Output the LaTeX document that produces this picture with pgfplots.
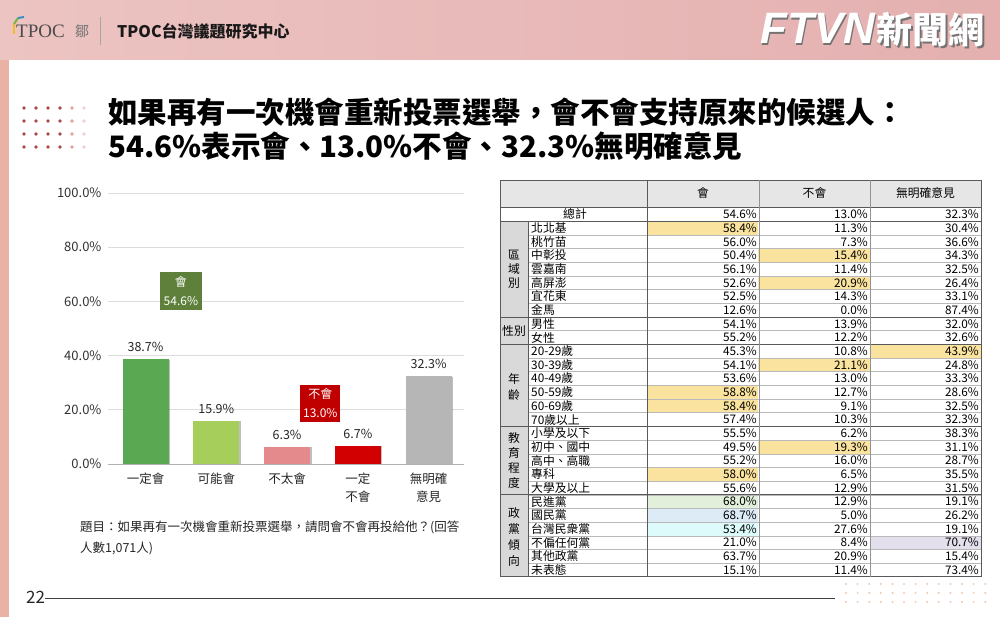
\documentclass[border=0pt]{standalone}
\usepackage{pgfplots}
\pgfplotsset{compat=1.18}
\usetikzlibrary{shadows}
\usepackage{fontspec}
\setmainfont{Noto Sans CJK TC}
\newfontfamily\lserif{Liberation Serif}
\newfontfamily\lsans{Liberation Sans}
\definecolor{hdrL}{RGB}{236,196,194}
\definecolor{hdrR}{RGB}{228,176,176}
\definecolor{stripe}{RGB}{233,178,165}
\definecolor{c1}{RGB}{91,168,82}
\definecolor{c2}{RGB}{166,206,90}
\definecolor{c3}{RGB}{229,138,140}
\definecolor{c4}{RGB}{210,0,0}
\definecolor{c5}{RGB}{182,182,182}
\definecolor{boxg}{RGB}{94,128,58}
\definecolor{boxr}{RGB}{192,0,0}
\definecolor{gridc}{RGB}{220,220,220}
\definecolor{axisgray}{RGB}{50,50,50}
\definecolor{hly}{RGB}{250,227,158}
\definecolor{hlg}{RGB}{226,239,218}
\definecolor{hlb}{RGB}{221,235,247}
\definecolor{hlc}{RGB}{221,251,251}
\definecolor{hlp}{RGB}{228,223,236}
\definecolor{thead}{RGB}{231,230,230}
\definecolor{tgrp}{RGB}{217,217,217}
\definecolor{tline}{RGB}{89,89,89}
\definecolor{dotA}{RGB}{170,72,72}
\definecolor{dotB}{RGB}{222,160,160}
\definecolor{dotC}{RGB}{240,208,208}
\definecolor{dotD}{RGB}{243,200,176}
\begin{document}
\begin{tikzpicture}[x=1pt,y=1pt]
\useasboundingbox (0,0) rectangle (1000,617);
\fill[white] (0,0) rectangle (1000,617);
\begin{scope}[yshift=617pt,yscale=-1]
% header
\shade[left color=hdrL,right color=hdrR] (0,0) rectangle (1000,60);
\fill[stripe] (0,60) rectangle (9,617);
% TPOC logo
\draw[line width=2pt,color={rgb,255:red,240;green,190;blue,40}] (14,34) -- (14,24);
\draw[line width=2pt,color={rgb,255:red,120;green,180;blue,60}] (14,24) -- (18,18);
\draw[line width=2pt,color={rgb,255:red,60;green,140;blue,200}] (18,18) -- (24,17);
\node[anchor=west,inner sep=0,text=black!70] at (16,31) {\lserif\fontsize{19}{20}\selectfont TPOC};
\node[anchor=west,inner sep=0,text=black!55] at (75,31) {\fontsize{14}{16}\selectfont 鄒};
\draw[gray!70,line width=0.8pt] (100,17) -- (100,45);
\node[anchor=west,inner sep=0,text=black!90] at (117,31) {\fontsize{16}{18}\selectfont\bfseries TPOC台灣議題研究中心};
% FTVN logo
\node[anchor=east,inner sep=0,text=black!55] at (986.5,31.5) {{\lsans\bfseries\itshape\fontsize{44}{46}\selectfont FTVN}\,{\bfseries\fontsize{36}{40}\selectfont 新聞網}};
\node[anchor=east,inner sep=0,text=white] at (985,30) {{\lsans\bfseries\itshape\fontsize{44}{46}\selectfont FTVN}\,{\bfseries\fontsize{36}{40}\selectfont 新聞網}};
% title dots
\foreach \yy in {108,121,134,147}{
  \foreach \xx/\cc in {24/dotA,36/dotA,48/dotA,60/dotA,72/dotB,84/dotC}{
    \fill[\cc] (\xx,\yy) circle (1.8);
  }
}
% title
\node[anchor=west,inner sep=0] at (108,112) {\fontsize{29.5}{34}\selectfont\bfseries 如果再有一次機會重新投票選舉，會不會支持原來的候選人：};
\node[anchor=west,inner sep=0] at (108,146) {\fontsize{29.5}{34}\selectfont\bfseries 54.6\%表示會、13.0\%不會、32.3\%無明確意見};
% footnote
\node[anchor=west,inner sep=0,text=black!85] at (80,527) {\fontsize{12.5}{14}\selectfont 題目：如果再有一次機會重新投票選舉，請問會不會再投給他？(回答};
\node[anchor=west,inner sep=0,text=black!85] at (80,548) {\fontsize{12.5}{14}\selectfont 人數1,071人)};
% page number and line
\node[anchor=west,inner sep=0,text=black!85] at (26,597) {\fontsize{17}{18}\selectfont 22};
\draw[black!75,line width=0.9pt] (45,598) -- (835,598);
\foreach \yy in {584,593,602}{
  \foreach \k in {0,...,12}{
    \fill[dotD] (846+11.6*\k,\yy) circle (1.1);
  }
}
% ---------- table ----------
\fill[thead] (500,180) rectangle (981,207.5);
\fill[tgrp] (500,221.18) rectangle (528,576.9);
\foreach \r/\c/\cc in {1/0/hly,3/1/hly,5/1/hly,10/2/hly,11/1/hly,13/0/hly,14/0/hly,17/1/hly,19/0/hly,21/0/hlg,22/0/hlb,23/0/hlc,24/2/hlp}{
  \pgfmathsetmacro\xa{647+111.33*\c}
  \pgfmathsetmacro\ya{207.5+13.68*\r}
  \fill[\cc] (\xa,\ya) rectangle ++(111.33,13.68);
}
\foreach \r in {2,...,26}{
  \pgfmathsetmacro\ya{207.5+13.68*\r}
  \draw[gray!55,line width=0.4pt] (528,\ya) -- (981,\ya);
}
\foreach \r in {0,1,8,10,16,21,27}{
  \pgfmathsetmacro\ya{207.5+13.68*\r}
  \draw[tline,line width=0.8pt] (500,\ya) -- (981,\ya);
}
\draw[tline,line width=0.8pt] (500,180) -- (981,180);
\draw[tline,line width=0.8pt] (500,180) -- (500,576.9);
\draw[tline,line width=0.8pt] (528,221.18) -- (528,576.9);
\draw[tline,line width=0.8pt] (647,180) -- (647,576.9);
\draw[gray!85,line width=0.5pt] (759,180) -- (759,576.9);
\draw[gray!85,line width=0.5pt] (870,180) -- (870,576.9);
\draw[tline,line width=0.8pt] (981,180) -- (981,576.9);
\begin{scope}[every node/.style={inner sep=0,font=\fontsize{11.8}{12}\selectfont}]
\node at (703,193) {會};
\node at (814.5,193) {不會};
\node at (925.5,193) {無明確意見};
\node at (575,214.34) {總計};
\foreach \i/\lab/\a/\b/\c in {
0//54.6/13.0/32.3,
1/北北基/58.4/11.3/30.4,
2/桃竹苗/56.0/7.3/36.6,
3/中彰投/50.4/15.4/34.3,
4/雲嘉南/56.1/11.4/32.5,
5/高屏澎/52.6/20.9/26.4,
6/宜花東/52.5/14.3/33.1,
7/金馬/12.6/0.0/87.4,
8/男性/54.1/13.9/32.0,
9/女性/55.2/12.2/32.6,
10/20-29歲/45.3/10.8/43.9,
11/30-39歲/54.1/21.1/24.8,
12/40-49歲/53.6/13.0/33.3,
13/50-59歲/58.8/12.7/28.6,
14/60-69歲/58.4/9.1/32.5,
15/70歲以上/57.4/10.3/32.3,
16/小學及以下/55.5/6.2/38.3,
17/初中、國中/49.5/19.3/31.1,
18/高中、高職/55.2/16.0/28.7,
19/專科/58.0/6.5/35.5,
20/大學及以上/55.6/12.9/31.5,
21/民進黨/68.0/12.9/19.1,
22/國民黨/68.7/5.0/26.2,
23/台灣民衆黨/53.4/27.6/19.1,
24/不偏任何黨/21.0/8.4/70.7,
25/其他政黨/63.7/20.9/15.4,
26/未表態/15.1/11.4/73.4}{
  \pgfmathsetmacro\yc{207.5+13.68*\i+6.84}
  \node[anchor=west] at (531,\yc) {\lab};
  \node[anchor=east] at (757,\yc) {\a\%};
  \node[anchor=east] at (868,\yc) {\b\%};
  \node[anchor=east] at (979,\yc) {\c\%};
}
\node[align=center,font=\fontsize{11.8}{14}\selectfont] at (514,269) {區\\域\\別};
\node at (514,330.6) {性別};
\node[align=center,font=\fontsize{11.8}{16}\selectfont] at (514,387) {年\\齡};
\node[align=center,font=\fontsize{11.8}{15}\selectfont] at (514,461) {教\\育\\程\\度};
\node[align=center,font=\fontsize{11.8}{16}\selectfont] at (514,537) {政\\黨\\傾\\向};
\end{scope}
\end{scope}
% ---------- bar chart ----------
\begin{axis}[
  at={(108pt,153pt)}, anchor=south west,
  scale only axis, width=356pt, height=271pt,
  xmin=-0.53, xmax=4.5, ymin=0, ymax=100,
  axis line style={draw=none},
  ytick={0,20,40,60,80,100},
  ymajorgrids, grid style={draw=gridc, line width=0.7pt},
  major tick length=0pt,
  /pgf/number format/assume math mode=true,
  yticklabel={\pgfmathprintnumber[fixed,fixed zerofill,precision=1]{\tick}\%},
  yticklabel style={font=\fontsize{13}{14}\selectfont, text=axisgray, xshift=-3pt},
  xtick={0,1,2,3,4},
  xticklabels={一定會,可能會,不太會,{一定\\不會},{無明確\\意見}},
  xticklabel style={font=\fontsize{12.5}{18}\selectfont, align=center, anchor=north, yshift=-5pt, text=black!85},
  ybar, bar width=46pt,
  nodes near coords={\pgfmathprintnumber[fixed,fixed zerofill,precision=1]{\pgfplotspointmeta}\%},
  every node near coord/.append style={font=\fontsize{12.5}{14}\selectfont, text=black!85, yshift=4pt},
  clip=false,
  barshadow/.style={drop shadow={shadow xshift=1.5pt, shadow yshift=-0.5pt, opacity=0.25, fill=black}},
]
\addplot[fill=c1, draw=none, bar shift=0pt, barshadow] coordinates {(0,38.7)};
\addplot[fill=c2, draw=none, bar shift=0pt, barshadow] coordinates {(1,15.9)};
\addplot[fill=c3, draw=none, bar shift=0pt, barshadow] coordinates {(2,6.3)};
\addplot[fill=c4, draw=none, bar shift=0pt, barshadow] coordinates {(3,6.7)};
\addplot[fill=c5, draw=none, bar shift=0pt, barshadow] coordinates {(4,32.3)};
\draw[gray!60, line width=0.7pt] (axis cs:-0.53,0) -- (axis cs:4.5,0);
\node[fill=boxg, text=white, minimum width=42pt, minimum height=38pt, inner sep=0, align=center, font=\fontsize{12}{19}\selectfont] at (axis cs:0.5,63.8) {會\\54.6\%};
\node[fill=boxr, text=white, minimum width=40pt, minimum height=37pt, inner sep=0, align=center, font=\fontsize{12}{19}\selectfont] at (axis cs:2.47,22.5) {不會\\13.0\%};
\end{axis}
\end{tikzpicture}
\end{document}
